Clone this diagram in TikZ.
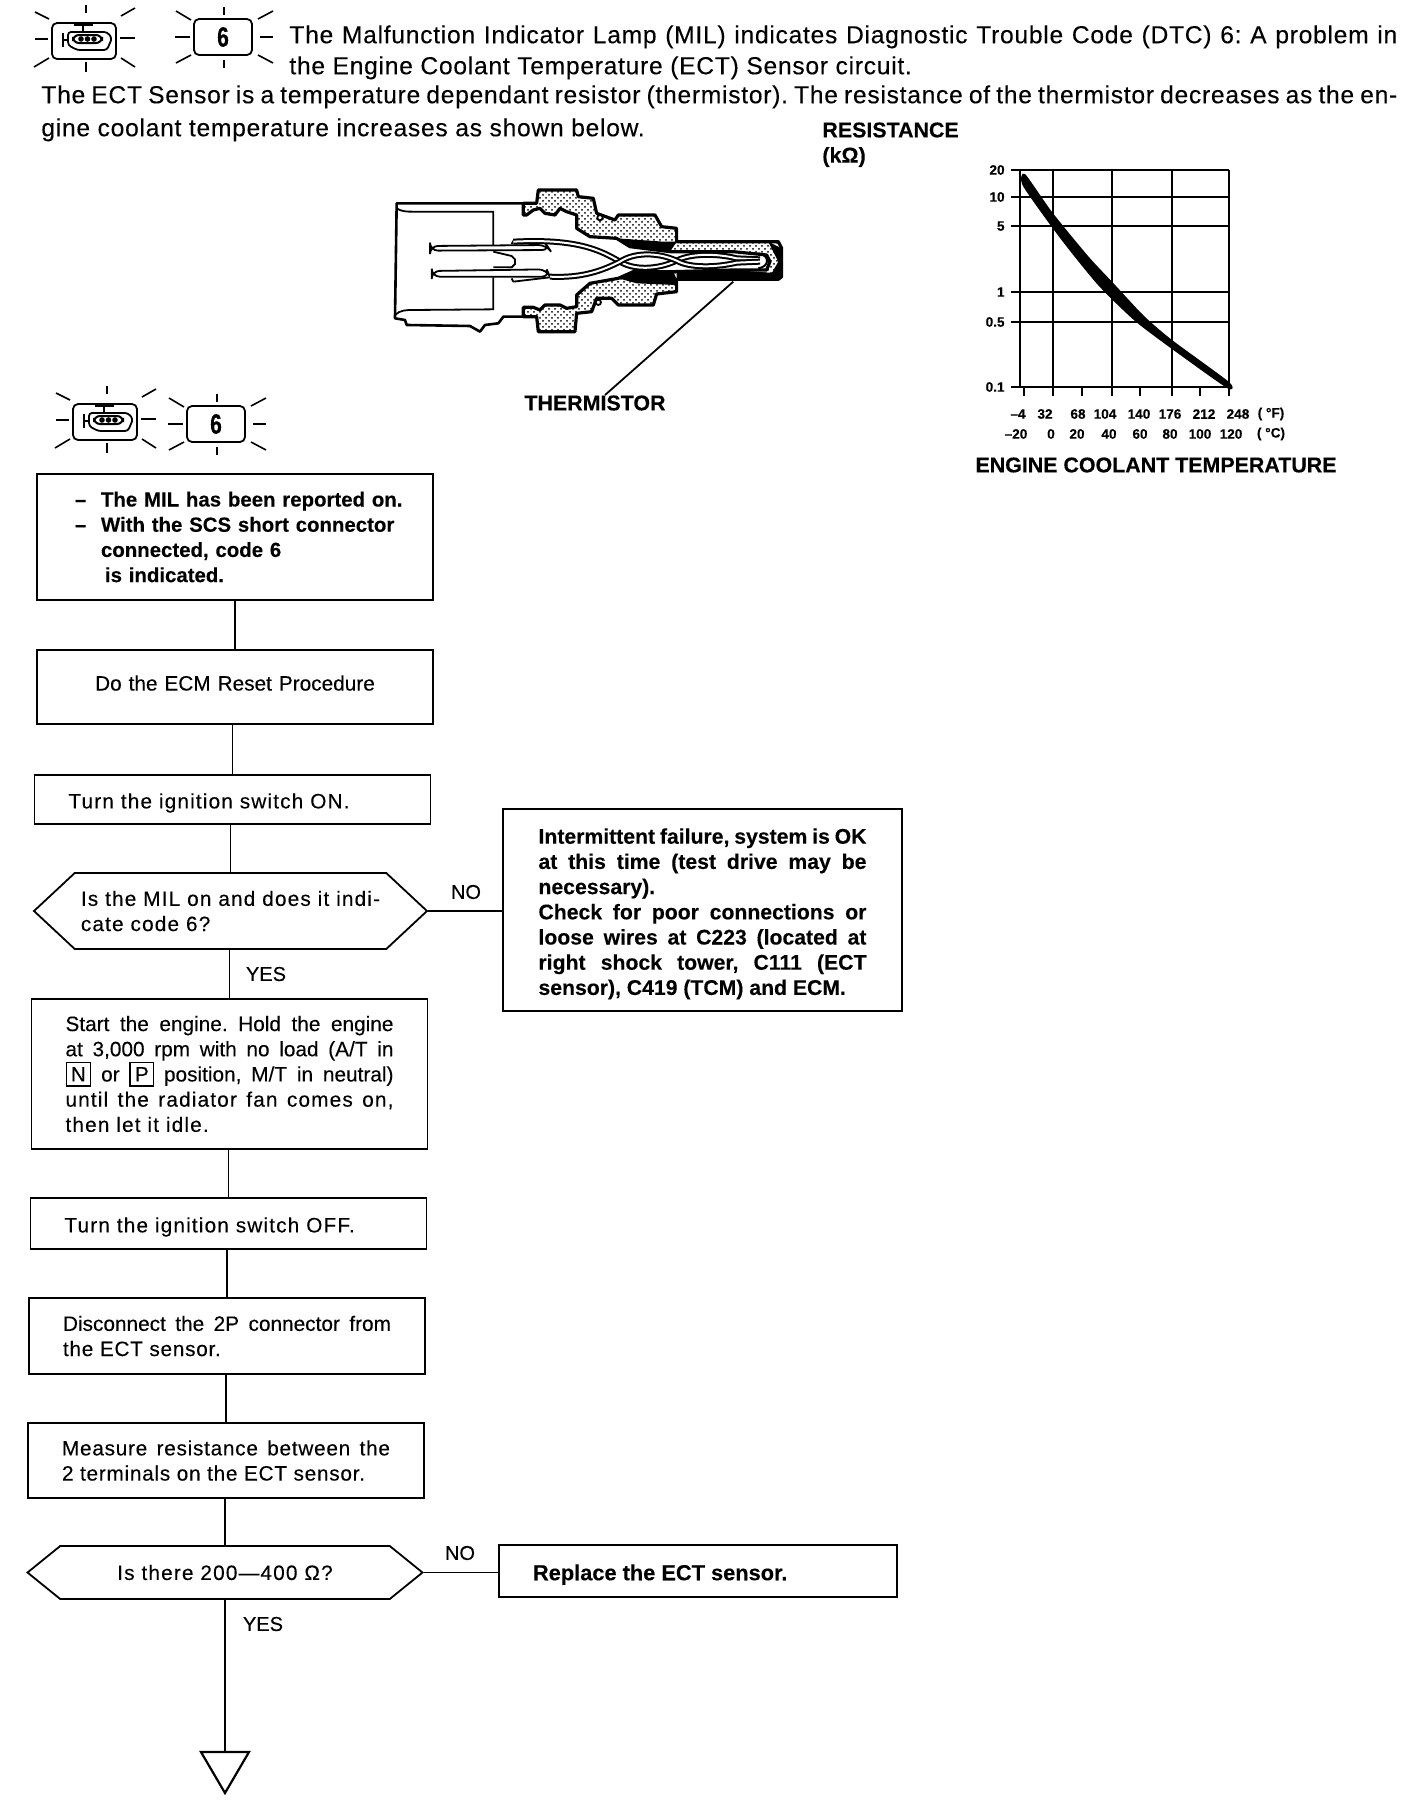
\documentclass[tikz,border=0pt]{standalone}
\usepackage{fontspec}
\setmainfont{Liberation Sans}[FakeBold=0.2]
\newfontfamily\widefont{Liberation Sans}[LetterSpace=5.5, FakeBold=0.2]
\newfontfamily\midfont{Liberation Sans}[LetterSpace=3.5, FakeBold=0.2]
\newfontfamily\introfont{Liberation Sans}[LetterSpace=3, FakeBold=0.2]
\usetikzlibrary{shapes.symbols, patterns}
\newcommand{\gearbox}[1]{\raisebox{0pt}[0pt][0pt]{\fboxsep=2pt\fboxrule=0.7pt\fbox{#1}}}

\begin{document}
\frenchspacing
\begin{tikzpicture}[
    x=0.5pt, y=-0.5pt,
    bodyfont/.style={font=\fontsize{10.4}{12.6}\selectfont},
    widebody/.style={font=\fontsize{10.4}{12.6}\widefont},
    midbody/.style={font=\fontsize{10.4}{12.6}\midfont},
    boldfont/.style={font=\fontsize{10.2}{12.6}\selectfont\bfseries},
    stepbox/.style={draw, line width=0.9pt, bodyfont, text width=164pt, inner xsep=17pt, inner ysep=0pt, align=left},
    notebox/.style={stepbox, font=\fontsize{10.6}{12.6}\selectfont\bfseries, align=justify},
    lowered/.style={execute at begin node={\leavevmode\rule{0pt}{#1}}},
    decision/.style={draw, line width=0.9pt, widebody, signal, signal to=west and east, inner sep=0pt, align=left},
    flowline/.style={line width=0.9pt},
    answer/.style={font=\fontsize{10}{12}\selectfont},
    ray/.style={line width=0.8pt},
    gridline/.style={line width=1.1pt},
    scalelabel/.style={font=\fontsize{6.8}{8}\selectfont\bfseries, inner sep=0pt},
    caption/.style={font=\fontsize{10.7}{12}\selectfont\bfseries, inner sep=0pt},
    lamppic/.pic={
        \draw[line width=0.9pt, rounded corners=2.5pt] (-32,-18) rectangle (32,18);
        \foreach \xa/\ya/\xb/\yb in {2/-36/2/-28, 2/21/2/31, -49/-2/-36/-2, 36/-3/51/-3, -49/-29/-35/-22, 37/-25/51/-33, -50/26/-35/17, 37/17/51/26}
            \draw[ray] (\xa,\ya) -- (\xb,\yb);
        % engine outline
        \draw[line width=0.9pt, rounded corners=1.5pt] (-16,-9) -- (23,-9) -- (28,-3) -- (23,9) -- (-7,9) -- (-16,4) -- cycle;
        \draw[line width=1.2pt] (-10,-16) -- (9,-16) (-1,-16) -- (-1,-9);
        \draw[line width=0.9pt] (-21,-8) -- (-21,6) (-21,-1) -- (-16,-1);
        \draw[line width=1pt, rounded corners=3pt] (-11,-6) rectangle (18,2);
        \foreach \xa in {-3,3.5,10}
            \fill (\xa,-2) circle (1.4pt);
    },
    codepic/.pic={
        \draw[line width=0.9pt, rounded corners=2.5pt] (-29,-18) rectangle (29,18);
        \foreach \xa/\ya/\xb/\yb in {1/-30/1/-22, 1/23/1/31, -48/0/-33/0, 37/0/50/0, -47/-26/-32/-17, 35/-18/50/-26, -47/26/-32/18, 35/18/50/26}
            \draw[ray] (\xa,\ya) -- (\xb,\yb);
        \node[font=\fontsize{14}{14}\selectfont\bfseries, inner sep=0pt] (-six) at (0,0) {\scalebox{0.75}[1]{6}};
    }
]
\useasboundingbox (0,0) rectangle (1408,1800);

% Top text
\pic at (84,41) {lamppic};
\pic (topcode) at (223,37) {codepic};
\node[anchor=north west, inner sep=0pt, text width=554pt, align=justify, font=\fontsize{12.3}{15.5}\introfont] (intro) at (289,25)
    {The Malfunction Indicator Lamp (MIL) indicates Diagnostic Trouble Code (DTC) 6: A problem in\linebreak the Engine Coolant Temperature (ECT) Sensor circuit.};
\node[anchor=north west, inner sep=0pt, text width=678pt, align=justify, font=\fontsize{12.3}{16.5}\introfont] (ectnote) at (41,85)
    {The ECT Sensor is a temperature dependant resistor (thermistor). The resistance of the thermistor decreases as the en-\linebreak gine coolant temperature increases as shown below.};

% Sensor drawing
\begin{scope}[shift={(370,170)}, scale=0.3333]
    \draw[line width=1.3pt, line join=round] (460,100) -- (80,100) -- (75,445) -- (105,450) -- (110,465) -- (300,468) -- (330,485) -- (345,465) -- (385,460) -- (400,440) -- (460,440);
    \draw[line width=0.9pt] (80,115) .. controls (95,125) and (110,125) .. (130,125) -- (370,125) -- (370,225);
    \draw[line width=0.9pt] (75,435) .. controls (90,420) and (110,420) .. (130,420) -- (370,418) -- (370,322);
    \draw[line width=0.9pt] (370,245) -- (425,258) -- (435,268) -- (435,282) -- (425,292) -- (370,292);
    % body of the sensor
    \draw[line width=1.6pt, line join=round, pattern=crosshatch dots, pattern color=black]
        (460,100) -- (500,100) -- (505,60) -- (620,60) -- (625,80) -- (670,85) -- (680,130) -- (735,150) -- (745,135) -- (855,135) -- (875,170) -- (920,175) -- (920,215) -- (1225,215) -- (1235,235) -- (1235,320) -- (1225,328) -- (920,328) -- (920,365) -- (860,372) -- (850,405) -- (745,405) -- (725,385) -- (680,385) -- (665,425) -- (620,430) -- (615,485) -- (505,485) -- (500,440) -- (460,440)
        -- (460,412) -- (490,412) -- (510,420) -- (525,405) -- (570,405) -- (590,415) -- (620,410) -- (620,375) -- (660,340) -- (745,325) -- (790,305) -- (910,305) -- (1090,300) -- (1190,300) -- (1200,275) -- (1190,255) -- (1090,245) -- (900,245) -- (780,230) -- (740,205) -- (660,200) -- (620,175) -- (620,135) -- (590,125) -- (570,115) -- (555,135) -- (525,130) -- (510,115) -- (490,120) -- (470,135) -- (460,135) -- cycle;
    \fill (745,325) -- (790,305) -- (910,305) -- (920,328) -- (920,345) -- (800,340) -- cycle;
    \fill (740,205) -- (780,230) -- (900,245) -- (920,215) -- (880,215) -- cycle;
    \fill (920,305) -- (1090,300) -- (1225,310) -- (1225,328) -- (920,328) -- cycle;
    \fill (1195,215) -- (1235,235) -- (1235,320) -- (1195,328) -- (1225,275) -- cycle;
    \filldraw[fill=white, line width=0.9pt] (690,143) circle (8) (685,397) circle (8);
    % pins and wires
    \draw[line width=0.9pt, rounded corners=4pt, fill=white] (180,228) -- (530,225) -- (540,240) -- (180,242) -- cycle;
    \draw[line width=0.9pt, rounded corners=4pt, fill=white] (185,303) -- (530,298) -- (540,320) -- (185,320) -- cycle;
    \draw[line width=0.9pt] (430,212) -- (540,212) (430,335) -- (540,322);
    \draw[line width=0.9pt] (430,212) -- (425,222) (430,335) -- (425,325);
    \draw[line width=1pt, double=white, double distance=1pt] (430,215) .. controls (620,205) and (690,240) .. (750,275) .. controls (790,300) and (860,300) .. (920,272) .. controls (960,250) and (1040,250) .. (1100,265) -- (1170,268);
    \draw[line width=1pt, double=white, double distance=1pt] (540,320) .. controls (640,325) and (700,300) .. (750,275) .. controls (790,248) and (860,245) .. (920,272) .. controls (960,295) and (1040,292) .. (1100,278) -- (1170,275);
    \draw[line width=1pt] (1165,250) .. controls (1200,255) and (1200,290) .. (1165,295);
    \coordinate (thermtip) at (1090,335);
\end{scope}
\node[caption] (thermlabel) at (595,403) {THERMISTOR};
\draw[line width=0.9pt] (thermtip) -- ([xshift=5pt]thermlabel.north);

% Chart
\node[caption, anchor=west] (restitle) at (822,130) {RESISTANCE};
\node[caption, anchor=west] (resunit) at (822,157) {(kΩ)};
\foreach \yy/\lab in {170/20, 197/10, 226/5, 292/1, 322/0.5, 387/0.1} {
    \draw[gridline] (1011,\yy) -- (1229,\yy);
    \node[scalelabel, anchor=east] (res\lab) at (1005,\yy) {\lab};
}
\foreach \xx in {1020,1053,1112,1172,1229}
    \draw[gridline] (\xx,170) -- (\xx,387);
\foreach \xx in {1024,1053,1082,1112,1140,1172,1200,1229}
    \draw[gridline] (\xx,387) -- (\xx,396);
\fill plot[smooth cycle, tension=0.4] coordinates {(1025,174) (1052,212) (1088,256) (1116,286) (1144,316) (1172,340) (1229,382) (1227,388) (1172,349) (1135,321) (1098,285) (1060,238) (1023,186)};
\foreach \xx/\lab in {1018/–4, 1045/32, 1078/68, 1105/104, 1139/140, 1170/176, 1204/212, 1238/248, 1271/{( °F)}}
    \node[scalelabel] (fahr\xx) at (\xx,414) {\lab};
\foreach \xx/\lab in {1016/–20, 1051/0, 1077/20, 1109/40, 1140/60, 1170/80, 1200/100, 1231/120, 1271/{( °C)}}
    \node[scalelabel] (cels\xx) at (\xx,434) {\lab};
\node[caption] (tempcaption) at (1156,465) {ENGINE COOLANT TEMPERATURE};

% Flow chart
\pic at (105,422) {lamppic};
\pic (flowcode) at (216,424) {codepic};

\node[stepbox, boldfont, minimum height=63pt, inner xsep=12pt, text width=174pt] (reported) at (235,537)
    {\hspace*{7pt}\makebox[13pt][l]{–}The MIL has been reported on.\\
     \hspace*{7pt}\makebox[13pt][l]{–}With the SCS short connector\\
     \hspace*{20pt}connected, code 6\\
     \hspace*{22pt}is indicated.};
\node[stepbox, minimum height=37pt, align=center] (reset) at (235,687) {\raisebox{4pt}{Do the ECM Reset Procedure}};
\node[stepbox, widebody, minimum height=24.5pt, lowered=11pt] (ignon) at (232.5,799.5) {Turn the ignition switch ON.};
\node[decision, minimum width=196.5pt, minimum height=38pt, signal pointer angle=86] (milon) at (230.5,911)
    {Is the MIL on and does it indi-\\cate code 6?};
\node[notebox, minimum height=101pt, minimum width=199.5pt, lowered=11.5pt] (intermittent) at (702.5,910)
    {Intermittent failure, system is OK\linebreak
     at this time (test drive may be\linebreak
     necessary).\\
     Check for poor connections or\linebreak
     loose wires at C223 (located at\linebreak
     right shock tower, C111 (ECT\linebreak
     sensor), C419 (TCM) and ECM.};
\node[stepbox, align=justify, minimum height=75pt] (startup) at (229.5,1074)
    {Start the engine. Hold the engine\linebreak
     at 3,000 rpm with no load (A/T in\linebreak
     \gearbox{N} or \gearbox{P} position, M/T in neutral)\linebreak
     {\widefont until the radiator fan comes on,}\linebreak
     {\widefont then let it idle.}};
\node[stepbox, widebody, minimum height=25.5pt, lowered=11pt] (ignoff) at (228.5,1223.5) {Turn the ignition switch OFF.};
\node[stepbox, minimum height=38pt, align=justify] (unplug) at (227,1336)
    {Disconnect the 2P connector from\linebreak{\midfont the ECT sensor.}};
\node[stepbox, midbody, minimum height=37.5pt, align=justify] (measure) at (226,1460.5)
    {Measure resistance between the\linebreak 2 terminals on the ECT sensor.};
\node[decision, minimum width=197.5pt, minimum height=26.5pt, signal pointer angle=78] (ohmtest) at (225,1572.5)
    {Is there 200—400 Ω?};
\node[notebox, minimum height=26pt, text width=165pt, font=\fontsize{10.9}{12.6}\selectfont\bfseries, lowered=11.5pt] (replace) at (698,1571) {Replace the ECT sensor.};

% Answers
\node[answer] (milno) at (466,892) {NO};
\node[answer] (milyes) at (266,974) {YES};
\node[answer] (ohmno) at (460,1553) {NO};
\node[answer] (ohmyes) at (263,1624) {YES};

% Connections
\draw[flowline] (reported.south) -- (reset.north);
\draw[flowline] (ignon.north |- reset.south) -- (ignon.north);
\draw[flowline] (milon.north |- ignon.south) -- (milon.north);
\draw[flowline] (startup.north |- milon.south) -- (startup.north);
\draw[flowline] (ignoff.north |- startup.south) -- (ignoff.north);
\draw[flowline] (unplug.north |- ignoff.south) -- (unplug.north);
\draw[flowline] (measure.north |- unplug.south) -- (measure.north);
\draw[flowline] (ohmtest.north |- measure.south) -- (ohmtest.north);
\draw[flowline] (milon.east) -- (intermittent.west |- milon.east);
\draw[flowline] (ohmtest.east) -- (replace.west |- ohmtest.east);

% End marker
\coordinate (endtop) at (225,1752);
\draw[flowline] (ohmtest.south) -- (endtop);
\draw[line width=1.1pt] (201,1752) -- (249,1752) -- (225,1793) -- cycle;

\end{tikzpicture}
\end{document}
